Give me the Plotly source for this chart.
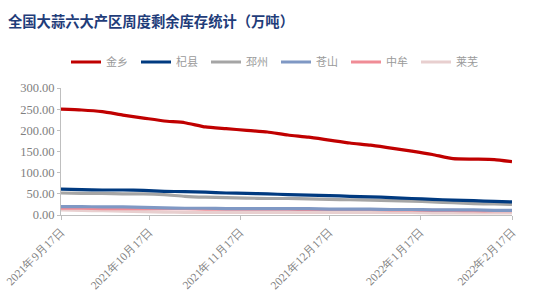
import plotly.graph_objects as go
import pandas as pd

dates = list(pd.date_range("2021-09-17", "2022-02-11", freq="7D")) + [pd.Timestamp("2022-02-17")]
series_names = ["金乡", "杞县", "邳州", "苍山", "中牟", "莱芜"]
jinxiang = [250, 248, 244, 236, 229, 222, 218, 208, 204, 200, 196, 189, 184, 177, 170, 165, 158, 151, 143, 133, 132, 131, 126]
qixian = [61, 60, 59, 59, 58, 56, 55, 54, 52, 51, 50, 48, 47, 46, 44, 43, 41, 39, 37, 35, 34, 32, 31]
pizhou = [52, 51, 51, 50, 50, 48, 44, 42, 41, 40, 39, 39, 38, 37, 36, 35, 34, 33, 31, 29, 27, 26, 25]
cangshan = [20, 20, 19, 19, 18, 17, 16, 16, 15, 15, 15, 15, 15, 14, 14, 14, 13, 13, 12, 12, 12, 11, 11]
zhongmou = [16, 16, 15, 15, 15, 15, 15, 14, 14, 14, 14, 14, 13, 13, 13, 13, 12, 12, 11, 11, 10, 10, 10]
laiwu = [12, 11, 10, 9, 8, 7, 6, 6, 6, 6, 6, 6, 6, 6, 6, 6, 6, 6, 5, 5, 5, 5, 5]
tick_dates = ["2021-09-17", "2021-10-17", "2021-11-17", "2021-12-17", "2022-01-17", "2022-02-17"]
tick_labels = ["2021年9月17日", "2021年10月17日", "2021年11月17日", "2021年12月17日", "2022年1月17日", "2022年2月17日"]
y_ticks = [0, 50, 100, 150, 200, 250, 300]

values = [jinxiang, qixian, pizhou, cangshan, zhongmou, laiwu]
colors = ["#C00000", "#003A80", "#A5A5A5", "#7F98C4", "#F08C96", "#E8CFCF"]

fig = go.Figure()
for i in range(6):
    fig.add_trace(go.Scatter(
        x=dates, y=values[i], name=series_names[i], mode="lines",
        line=dict(color=colors[i], width=3.2, shape="spline", smoothing=0.5),
        legendrank=i + 1,
    ))
# draw light lines first so the dark ones sit on top
fig.data = tuple(reversed(fig.data))

fig.update_layout(
    width=555, height=296,
    margin=dict(l=61, r=43, t=88, b=81),
    paper_bgcolor="white", plot_bgcolor="white",
    title=dict(text="<b>全国大蒜六大产区周度剩余库存统计（万吨）</b>",
               x=8 / 555, xanchor="left", y=1 - 22 / 296, yanchor="middle",
               font=dict(family="Noto Sans CJK SC", size=14.3, color="#1F3D7A")),
    legend=dict(orientation="h", xref="container", yref="container",
                x=66 / 555, xanchor="left", y=1 - 62 / 296, yanchor="middle",
                font=dict(family="Noto Sans CJK SC", size=11, color="#9A9A9A"),
                entrywidth=25, entrywidthmode="pixels", itemwidth=30,
                traceorder="normal", bgcolor="rgba(0,0,0,0)"),
    showlegend=True,
)
fig.update_xaxes(
    range=["2021-09-17", "2022-02-17"], tickvals=tick_dates, ticktext=tick_labels,
    tickangle=-45, showgrid=False, showline=True, linecolor="#BFBFBF", linewidth=1,
    ticks="outside", ticklen=4, tickcolor="#BFBFBF", automargin=False,
    tickfont=dict(family="Liberation Serif", size=11.5, color="#7F7F7F"),
)
fig.update_yaxes(
    range=[0, 300], tickvals=y_ticks, tickformat=".2f", automargin=False,
    showgrid=False, showline=True, linecolor="#BFBFBF", linewidth=1,
    ticks="outside", ticklen=3, tickcolor="#BFBFBF", zeroline=False,
    tickfont=dict(family="Liberation Serif", size=12.5, color="#7F7F7F"),
)
fig.write_html("out.html")
